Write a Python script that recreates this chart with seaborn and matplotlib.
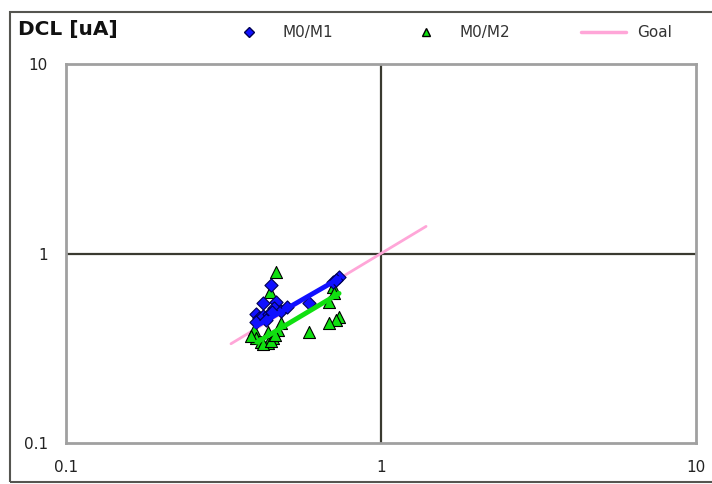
import numpy as np
import pandas as pd
import matplotlib
matplotlib.use("Agg")
import matplotlib.pyplot as plt
import seaborn as sns
from matplotlib.lines import Line2D
from matplotlib.patches import Rectangle

# M0/M1 points (blue diamonds)
m1_x = [0.448, 0.422, 0.464, 0.458, 0.401, 0.410, 0.401, 0.422, 0.441, 0.482,
        0.503, 0.590, 0.704, 0.736, 0.719, 0.430, 0.452]
m1_y = [0.679, 0.546, 0.552, 0.514, 0.477, 0.455, 0.433, 0.466, 0.477, 0.495,
        0.520, 0.546, 0.704, 0.748, 0.721, 0.445, 0.490]

# M0/M2 points (green triangles)
m2_x = [0.464, 0.444, 0.395, 0.401, 0.416, 0.438, 0.454, 0.471, 0.482, 0.438,
        0.704, 0.709, 0.684, 0.590, 0.736, 0.719, 0.684, 0.422, 0.387, 0.448,
        0.460]
m2_y = [0.794, 0.624, 0.394, 0.357, 0.340, 0.336, 0.357, 0.394, 0.428, 0.384,
        0.662, 0.616, 0.552, 0.384, 0.461, 0.444, 0.428, 0.332, 0.366, 0.345,
        0.372]

# trend lines
m1_trend_x = [0.401, 0.736]
m1_trend_y = [0.413, 0.738]
m2_trend_x = [0.404, 0.736]
m2_trend_y = [0.340, 0.616]

# goal line y = x
goal_x = [0.334, 1.39]
goal_y = [0.334, 1.39]

ticks = [0.1, 1, 10]
tick_labels = ["0.1", "1", "10"]

sns.set_theme(style="white")
plt.rcParams["font.family"] = ["DejaVu Sans"]

fig = plt.figure(figsize=(7.12, 4.84), dpi=100)
ax = fig.add_axes([66 / 712, 1 - 443 / 484, 630 / 712, 379 / 484])

blue = "#1010ff"
green = "#10e010"

sns.lineplot(x=goal_x, y=goal_y, ax=ax, color="#ffa6d8", lw=2, zorder=2)
sns.scatterplot(x=m2_x, y=m2_y, ax=ax, marker="^", s=75, color=green,
                edgecolor="black", linewidth=0.8, zorder=3)
sns.scatterplot(x=m1_x, y=m1_y, ax=ax, marker="D", s=45, color=blue,
                edgecolor="#000050", linewidth=0.8, zorder=4)
sns.lineplot(x=m2_trend_x, y=m2_trend_y, ax=ax, color=green, lw=3.5, zorder=5)
sns.lineplot(x=m1_trend_x, y=m1_trend_y, ax=ax, color=blue, lw=3.5, zorder=5)

ax.set_xscale("log")
ax.set_yscale("log")
ax.set_xlim(0.1, 10)
ax.set_ylim(0.1, 10)
ax.set_xticks(ticks)
ax.set_xticklabels(tick_labels)
ax.set_yticks(ticks)
ax.set_yticklabels(tick_labels)
ax.minorticks_off()
ax.tick_params(axis="both", length=0, labelsize=11, colors="#222222")
ax.tick_params(axis="x", pad=12)
ax.tick_params(axis="y", pad=13)

ax.axhline(1, color="#3a3a30", lw=1.6, zorder=1)
ax.axvline(1, color="#3a3a30", lw=1.6, zorder=1)
for sp in ax.spines.values():
    sp.set_color("#a0a0a0")
    sp.set_linewidth(2)

# outer chart frame
fig.patches.append(Rectangle((10 / 712, 2 / 484), 1.0, 470 / 484,
                             transform=fig.transFigure, fill=False,
                             edgecolor="#555550", lw=1.5))

fig.text(18 / 712, 1 - 30 / 484, "DCL [uA]", fontsize=14.5, fontweight="bold",
         va="center", ha="left", color="#111111")

handles = [
    Line2D([], [], marker="D", color=blue, markeredgecolor="#000050",
           markersize=5, linestyle="none"),
    Line2D([], [], marker="^", color=green, markeredgecolor="black",
           markersize=6, linestyle="none"),
    Line2D([], [], color="#ffa6d8", lw=2.5),
]
fig.legend(handles, ["M0/M1", "M0/M2", "Goal"], ncol=3, frameon=False,
           loc="center left", bbox_to_anchor=(212 / 712, 1 - 33 / 484),
           fontsize=11, handlelength=3.0, handletextpad=0.7,
           columnspacing=4.6, labelcolor="#333333")

fig.savefig("out.png", dpi=100)
